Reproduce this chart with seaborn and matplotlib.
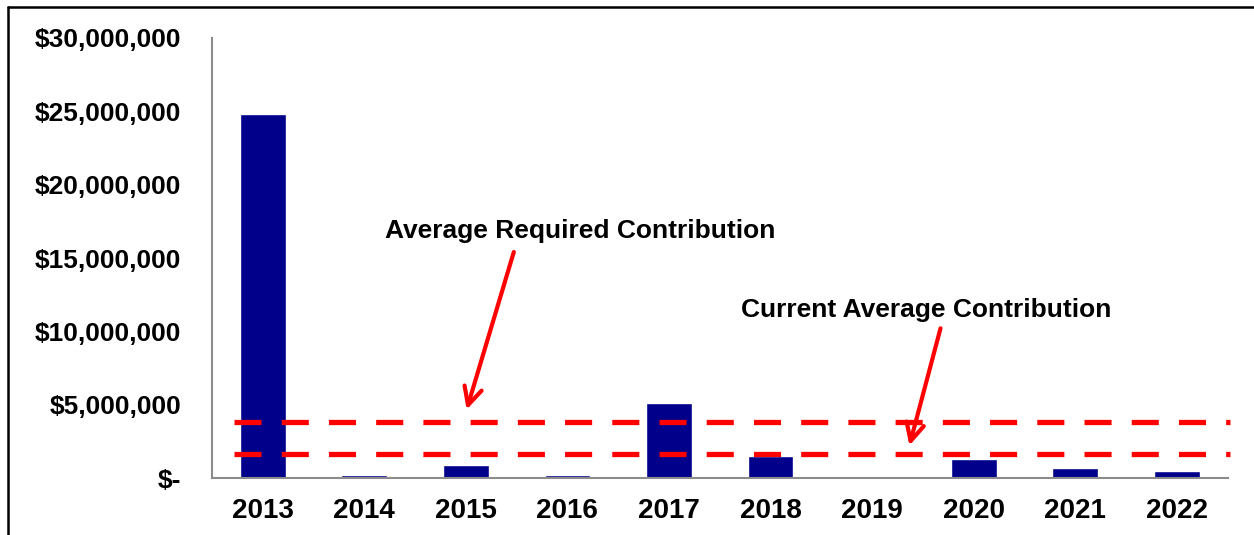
import numpy as np
import pandas as pd
import matplotlib
matplotlib.use("Agg")
import matplotlib.pyplot as plt
import seaborn as sns
from matplotlib.ticker import FuncFormatter, MultipleLocator
from matplotlib.lines import Line2D

# values
years = ["2013", "2014", "2015", "2016", "2017", "2018", "2019", "2020", "2021", "2022"]
contributions = [24800000, 200000, 900000, 200000, 5100000, 1500000, 0, 1300000, 680000, 480000]
required_avg = 3840000
current_avg = 1640000


def money(v, pos):
    if v == 0:
        return "$-"
    return f"${v:,.0f}"


def main():
    sns.set_style("white")
    plt.rcParams["font.family"] = ["Liberation Sans", "DejaVu Sans"]
    plt.rcParams["font.weight"] = "bold"
    plt.rcParams["lines.scale_dashes"] = False
    plt.rcParams["text.color"] = "black"
    plt.rcParams["xtick.color"] = "black"
    plt.rcParams["ytick.color"] = "black"

    df = pd.DataFrame({"year": years, "amount": contributions})

    fig = plt.figure(figsize=(12.54, 5.35), dpi=100)
    ax = fig.add_axes([0.169, 0.106, 0.81, 0.823])

    sns.barplot(data=df, x="year", y="amount", color="#00008B", width=0.45,
                saturation=1, ax=ax, zorder=2.5)

    # dashed average lines
    for val in (required_avg, current_avg):
        ax.hlines(val, -0.28, 9.52, colors="#FF0000", linewidth=3.8,
                  linestyles=(0, (19.5, 14.5)), zorder=3, clip_on=False)

    ax.set_xlim(-0.5, 9.5)
    ax.set_ylim(0, 30000000)
    ax.yaxis.set_major_locator(MultipleLocator(5000000))
    ax.yaxis.set_major_formatter(FuncFormatter(money))
    ax.set_xlabel("")
    ax.set_ylabel("")
    ax.tick_params(axis="y", length=0, pad=22, labelsize=19, labelcolor="black")
    ax.tick_params(axis="x", length=0, pad=14, labelsize=20, labelcolor="black")

    for side in ("top", "right"):
        ax.spines[side].set_visible(False)
    for side in ("left", "bottom"):
        ax.spines[side].set_color("#8c8c8c")
        ax.spines[side].set_linewidth(1.5)

    # annotations
    ax.text(3.13, 16.86e6, "Average Required Contribution", ha="center",
            va="center", fontsize=19, fontweight="bold", color="black")
    ax.annotate("", xy=(2.0, 4.5e6), xytext=(2.48, 15.6e6),
                arrowprops=dict(arrowstyle="->", color="#FF0000", lw=3,
                                mutation_scale=32))
    ax.text(6.53, 11.47e6, "Current Average Contribution", ha="center",
            va="center", fontsize=19, fontweight="bold", color="black")
    ax.annotate("", xy=(6.36, 2.05e6), xytext=(6.68, 10.4e6),
                arrowprops=dict(arrowstyle="->", color="#FF0000", lw=3,
                                mutation_scale=32))

    # frame on the top and left edges of the picture
    fig.add_artist(Line2D([0.0065, 1.0], [0.987, 0.987], color="black", lw=1.8))
    fig.add_artist(Line2D([0.0065, 0.0065], [0.0, 0.987], color="black", lw=1.8))

    fig.savefig("out.png", dpi=100)


if __name__ == "__main__":
    main()
